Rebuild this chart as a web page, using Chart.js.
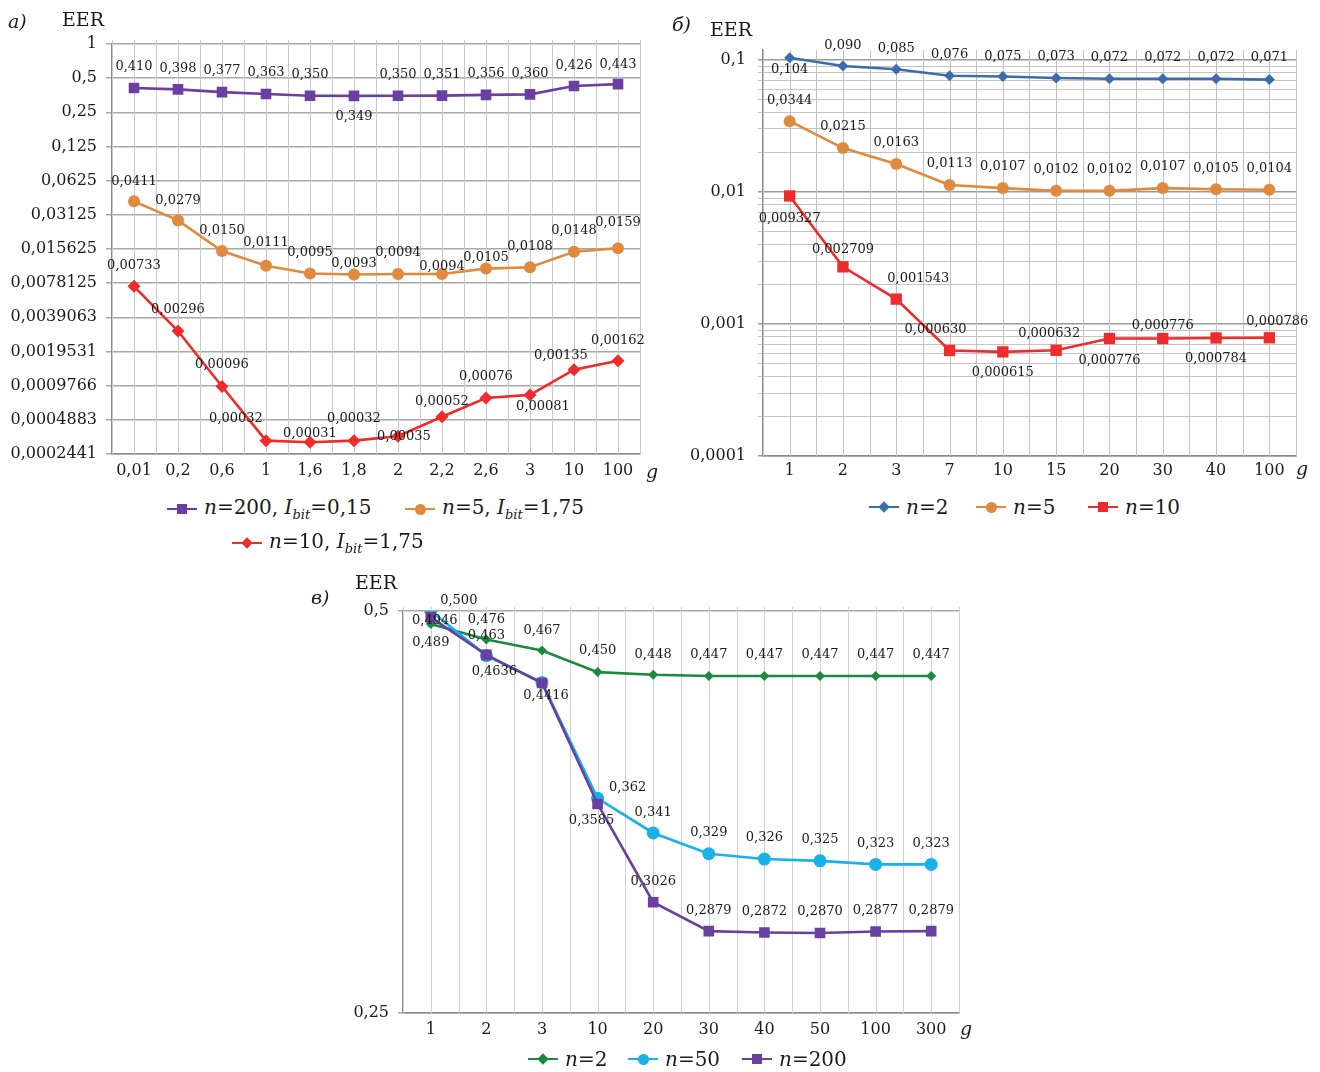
<!DOCTYPE html>
<html><head><meta charset="utf-8">
<script src="https://cdn.jsdelivr.net/npm/chart.js@4"></script>
<style>
body{margin:0;background:#fff;width:1320px;height:1072px;position:relative;overflow:hidden;font-family:'DejaVu Serif',serif;color:#1a1a1a}
canvas{position:absolute}
.t{position:absolute;white-space:nowrap;line-height:1;font-size:19px}
.it{font-style:italic}
.lg{position:absolute;display:flex;align-items:center;white-space:nowrap;font-size:20px;line-height:1;font-family:'DejaVu Serif',serif}
.lg sub{font-size:13px;vertical-align:-5px;font-style:italic}
.mk{display:inline-block;position:relative;width:30px;height:2.5px;margin-right:7px}
.mk b{position:absolute;left:50%;top:50%}
.sq{width:10px;height:10px;margin:-5px 0 0 -5px}
.ci{width:11px;height:11px;border-radius:50%;margin:-5.5px 0 0 -5.5px}
.di{width:8px;height:8px;transform:rotate(45deg);margin:-4px 0 0 -4px}
</style></head><body>
<canvas id="ca" width="660" height="490" style="left:0;top:0"></canvas>
<canvas id="cb" width="660" height="490" style="left:660px;top:0"></canvas>
<canvas id="cc" width="700" height="512" style="left:300px;top:560px"></canvas>

<div class="t it" style="left:8px;top:12px">а)</div>
<div class="t" style="left:62px;top:10px">EER</div>
<div class="t it" style="left:646px;top:462px">g</div>
<div class="t it" style="left:672px;top:15px">б)</div>
<div class="t" style="left:710px;top:20px">EER</div>
<div class="t it" style="left:1296px;top:459px">g</div>
<div class="t it" style="left:311px;top:588px">в)</div>
<div class="t" style="left:355px;top:573px">EER</div>
<div class="t it" style="left:960px;top:1019px">g</div>

<div class="lg" style="left:167px;top:497px"><span class="mk" style="background:#6a3fa0"><b class="sq" style="background:#6a3fa0"></b></span><span><i>n</i>=200, <i>I</i><sub>bit</sub>=0,15</span></div>
<div class="lg" style="left:405px;top:497px"><span class="mk" style="background:#df8a3d"><b class="ci" style="background:#df8a3d"></b></span><span><i>n</i>=5, <i>I</i><sub>bit</sub>=1,75</span></div>
<div class="lg" style="left:232px;top:531px"><span class="mk" style="background:#ef2b2b"><b class="di" style="background:#ef2b2b"></b></span><span><i>n</i>=10, <i>I</i><sub>bit</sub>=1,75</span></div>

<div class="lg" style="left:869px;top:497px"><span class="mk" style="background:#3d6cae"><b class="di" style="background:#3d6cae"></b></span><span><i>n</i>=2</span></div>
<div class="lg" style="left:976px;top:497px"><span class="mk" style="background:#df8a3d"><b class="ci" style="background:#df8a3d"></b></span><span><i>n</i>=5</span></div>
<div class="lg" style="left:1088px;top:497px"><span class="mk" style="background:#ef2b2b"><b class="sq" style="background:#ef2b2b"></b></span><span><i>n</i>=10</span></div>

<div class="lg" style="left:528px;top:1049px"><span class="mk" style="background:#1a8a3f"><b class="di" style="background:#1a8a3f"></b></span><span><i>n</i>=2</span></div>
<div class="lg" style="left:628px;top:1049px"><span class="mk" style="background:#19b1e9"><b class="ci" style="background:#19b1e9"></b></span><span><i>n</i>=50</span></div>
<div class="lg" style="left:742px;top:1049px"><span class="mk" style="background:#6a3fa0"><b class="sq" style="background:#6a3fa0"></b></span><span><i>n</i>=200</span></div>

<script>
// ---------- data: chart а) ----------
const catA = ['0,01','0,2','0,6','1','1,6','1,8','2','2,2','2,6','3','10','100'];
const eerA_n200 = [0.410,0.398,0.377,0.363,0.350,0.349,0.350,0.351,0.356,0.360,0.426,0.443];
const eerA_n5   = [0.0411,0.0279,0.0150,0.0111,0.0095,0.0093,0.0094,0.0094,0.0105,0.0108,0.0148,0.0159];
const eerA_n10  = [0.00733,0.00296,0.00096,0.00032,0.00031,0.00032,0.00035,0.00052,0.00076,0.00081,0.00135,0.00162];
const yTicksA = [1,0.5,0.25,0.125,0.0625,0.03125,0.015625,0.0078125,0.0039063,0.0019531,0.0009766,0.0004883,0.0002441];

// ---------- data: chart б) ----------
const catB = ['1','2','3','7','10','15','20','30','40','100'];
const eerB_n2  = [0.104,0.090,0.085,0.076,0.075,0.073,0.072,0.072,0.072,0.071];
const eerB_n5  = [0.0344,0.0215,0.0163,0.0113,0.0107,0.0102,0.0102,0.0107,0.0105,0.0104];
const eerB_n10 = [0.009327,0.002709,0.001543,0.000630,0.000615,0.000632,0.000776,0.000776,0.000784,0.000786];
const yTicksB = [0.1,0.01,0.001,0.0001];

// ---------- data: chart в) ----------
const catC = ['1','2','3','10','20','30','40','50','100','300'];
const eerC_n2   = [0.489,0.476,0.467,0.450,0.448,0.447,0.447,0.447,0.447,0.447];
const eerC_n50  = [0.500,0.463,0.442,0.362,0.341,0.329,0.326,0.325,0.323,0.323];
const eerC_n200 = [0.4946,0.4636,0.4416,0.3585,0.3026,0.2879,0.2872,0.2870,0.2877,0.2879];
const yTicksC = [0.5,0.25];

// ---------- label placement (offsets from point, px) ----------
const U = [0,-21], D = [0,21];
const offA_n200 = [U,U,U,U,U,D,U,U,U,U,[0,-20],[0,-20]];
const offA_n5   = [[0,-20],[0,-20],[0,-20],[0,-23],U,[0,-11],U,[0,-7],[0,-11],U,U,[0,-26]];
const offA_n10  = [U,U,[0,-22],[-30,-22],[0,-9],[0,-22],[6,0],[0,-15],U,[13,12],[-13,-14],[0,-20]];
const offB_n2   = [[0,12],[0,-20],U,U,[0,-20],U,U,U,U,[0,-22]];
const offB_n5   = [U,U,U,U,U,U,U,U,U,U];
const offB_n10  = [[0,23],[0,-17],[22,-20],[-14,-21],D,[-7,-17],[0,22],[0,-13],D,[8,-16]];
const offC_n2   = [[0,19],[0,-20],[0,-20],U,[0,-20],U,U,U,U,U];
const offC_n50  = [[28,-10],[0,-20],null,[30,-11],[0,-20],U,U,U,U,U];
const offC_n200 = [[4,3],[8,17],[4,13],[-6,17],U,U,U,U,U,U];

const FONT = 'DejaVu Serif';
const TXT = '#1a1a1a';

const vGrid = {
  id: 'vGrid',
  beforeDatasetsDraw(chart, args, o) {
    const {ctx, chartArea: a, scales: {x}} = chart;
    const n = chart.data.labels.length;
    const step = x.getPixelForValue(1) - x.getPixelForValue(0);
    const x0 = x.getPixelForValue(0) - step / 2;
    ctx.save();
    ctx.strokeStyle = o.color; ctx.lineWidth = 1;
    for (let i = 0; i <= 2 * n; i++) {
      const px = Math.round(x0 + i * step / 2) + 0.5;
      ctx.beginPath(); ctx.moveTo(px, a.top - (o.ext || 0)); ctx.lineTo(px, a.bottom); ctx.stroke();
    }
    ctx.restore();
  }
};

const ptLabels = {
  id: 'ptLabels',
  afterDatasetsDraw(chart) {
    const ctx = chart.ctx;
    ctx.save();
    ctx.font = '13px "' + FONT + '"';
    ctx.fillStyle = TXT; ctx.textAlign = 'center'; ctx.textBaseline = 'middle';
    chart.data.datasets.forEach((ds, di) => {
      const meta = chart.getDatasetMeta(di);
      meta.data.forEach((pt, i) => {
        const o = ds.labelOffsets[i];
        if (!o) return;
        const txt = ds.data[i].toFixed(ds.labelDecimals).replace('.', ',');
        ctx.fillText(txt, pt.x + o[0], pt.y + o[1]);
      });
    });
    ctx.restore();
  }
};

function ds(data, color, style, r, offs, dec, order) {
  return {data, borderColor: color, backgroundColor: color, pointBackgroundColor: color,
    pointStyle: style, pointRadius: r, pointHoverRadius: r, pointBorderWidth: 0,
    borderWidth: 2.6, tension: 0, labelOffsets: offs, labelDecimals: dec, order: order || 0};
}
const fmt = v => String(v).replace('.', ',');

function makeChart(id, labels, datasets, cfg) {
  return new Chart(document.getElementById(id), {
    type: 'line',
    data: {labels, datasets},
    options: {
      responsive: false, animation: false, events: [],
      layout: {padding: {top: cfg.top, right: cfg.right, left: 0, bottom: 0}},
      plugins: {legend: {display: false}, tooltip: {enabled: false}, vGrid: {color: cfg.vColor, ext: cfg.ext}},
      scales: {
        x: {
          type: 'category', offset: true,
          grid: {display: false, drawTicks: false},
          border: {display: true, color: '#8c8c8c', width: 1.5},
          ticks: {font: {family: FONT, size: 16}, color: TXT, padding: cfg.xPad, autoSkip: false, maxRotation: 0},
          afterFit: s => { s.height = cfg.xH; }
        },
        y: {
          type: 'logarithmic', min: cfg.min, max: cfg.max,
          afterBuildTicks: s => { s.ticks = cfg.gridVals.map(v => ({value: v})); },
          afterFit: s => { s.width = cfg.yW; },
          grid: {color: cfg.gridColor, lineWidth: cfg.gridWidth, tickLength: cfg.tickLen, drawTicks: true},
          border: {display: true, color: '#8c8c8c', width: 1.5},
          ticks: {font: {family: FONT, size: 16}, color: TXT, padding: cfg.yPad, autoSkip: false,
                  callback: v => cfg.labelVals.includes(v) ? fmt(v) : ''}
        }
      }
    },
    plugins: [vGrid, ptLabels]
  });
}

// а)
makeChart('ca', catA, [
  ds(eerA_n200, '#6a3fa0', 'rect', 7.5, offA_n200, 3),
  ds(eerA_n5, '#df8a3d', 'circle', 6, offA_n5, 4),
  ds(eerA_n10, '#ef2b2b', 'rectRot', 6.5, offA_n10, 5)
], {top: 44, right: 20, xH: 36, yW: 112, xPad: 7, yPad: 9, tickLen: 6,
    min: yTicksA[yTicksA.length - 1], max: yTicksA[0], gridVals: yTicksA, labelVals: yTicksA,
    gridColor: '#a8a8a8', gridWidth: 1.5, vColor: '#cacaca', ext: 4});

// б)
const minorB = [];
yTicksB.forEach(d => { for (let k = 2; k <= 9; k++) { const v = k * d; if (v < 0.119) minorB.push(v); } });
const isMajorB = v => yTicksB.some(t => Math.abs(t - v) / t < 1e-9);
makeChart('cb', catB, [
  ds(eerB_n2, '#3d6cae', 'rectRot', 5.5, offB_n2, 3),
  ds(eerB_n5, '#df8a3d', 'circle', 6, offB_n5, 4),
  ds(eerB_n10, '#ef2b2b', 'rect', 8, offB_n10, 6)
], {top: 50, right: 24, xH: 34, yW: 103, xPad: 5, yPad: 12, tickLen: 5,
    min: 0.0001, max: 0.119, gridVals: yTicksB.concat(minorB), labelVals: yTicksB,
    gridColor: c => (c.tick && isMajorB(c.tick.value)) ? '#9a9a9a' : '#c4c4c4',
    gridWidth: c => (c.tick && isMajorB(c.tick.value)) ? 1.5 : 1, vColor: '#c2c2c2', ext: 0});

// в)
makeChart('cc', catC, [
  ds(eerC_n2, '#1a8a3f', 'rectRot', 5, offC_n2, 3, 2),
  ds(eerC_n50, '#19b1e9', 'circle', 6.5, offC_n50, 3, 1),
  ds(eerC_n200, '#6a3fa0', 'rect', 7.5, offC_n200, 4, 0)
], {top: 51, right: 41, xH: 59, yW: 103, xPad: 7, yPad: 9, tickLen: 5,
    min: 0.25, max: 0.5, gridVals: yTicksC, labelVals: yTicksC,
    gridColor: '#a8a8a8', gridWidth: 1.5, vColor: '#d0d0d0', ext: 4});
</script>
</body></html>
